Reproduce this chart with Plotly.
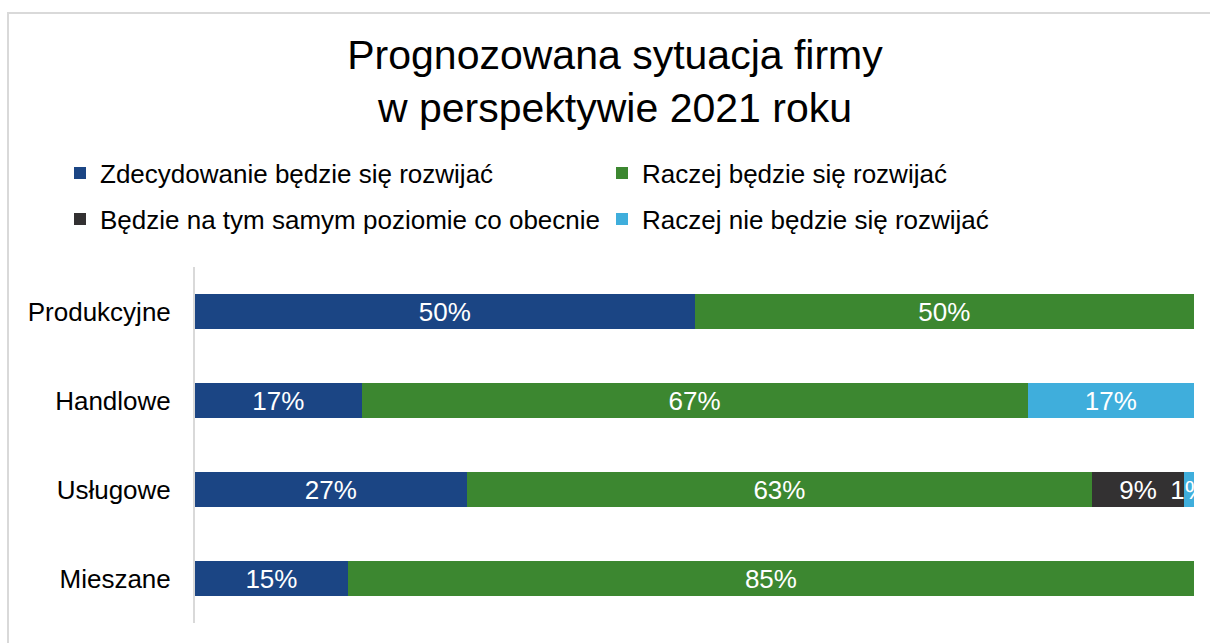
import plotly.graph_objects as go

categories = ["Produkcyjne", "Handlowe", "Usługowe", "Mieszane"]
series_names = [
    "Zdecydowanie będzie się rozwijać",
    "Raczej będzie się rozwijać",
    "Będzie na tym samym poziomie co obecnie",
    "Raczej nie będzie się rozwijać",
]
zdecydowanie = [50.0, 16.67, 27.2, 15.3]
raczej = [50.0, 66.67, 62.6, 84.7]
ten_sam = [0.0, 0.0, 9.2, 0.0]
raczej_nie = [0.0, 16.67, 1.0, 0.0]
colors = ["#1B4584", "#3C8730", "#333132", "#3FAEDC"]

W, H = 1210, 643
FONT = "Liberation Sans, Arial, sans-serif"

# legend placement (pixels): one legend per entry, two columns x two rows
legend_ids = ["legend", "legend2", "legend3", "legend4"]
legend_px = [(60, 173), (602, 173), (60, 219), (602, 219)]

fig = go.Figure()
for name, vals, col, lg in zip(series_names, [zdecydowanie, raczej, ten_sam, raczej_nie], colors, legend_ids):
    texts = [f"{round(v):d}%" if v > 0 else "" for v in vals]
    fig.add_trace(go.Bar(
        y=categories, x=vals, name=name, orientation="h",
        marker=dict(color=col, line=dict(width=0)),
        text=texts, textposition="inside", insidetextanchor="middle", textangle=0,
        textfont=dict(color="white", size=26, family=FONT),
        legend=lg, cliponaxis=True, showlegend=True,
    ))

legend_common = dict(
    orientation="h", xref="container", yref="container",
    xanchor="left", yanchor="middle",
    font=dict(size=26, family=FONT, color="#000000"),
    itemclick=False, itemdoubleclick=False, bgcolor="rgba(0,0,0,0)",
    traceorder="normal", visible=True,
)
legends = {}
for lg, (px, py) in zip(legend_ids, legend_px):
    legends[lg] = dict(legend_common, x=px / W, y=1 - py / H)

fig.update_layout(
    width=W, height=H,
    showlegend=True,
    barmode="stack", bargap=0.607,
    plot_bgcolor="white", paper_bgcolor="white",
    margin=dict(l=195, r=16, t=267, b=20),
    font=dict(family=FONT, color="#000000", size=26),
    uniformtext=dict(minsize=26, mode="show"),
    title=dict(
        text="Prognozowana sytuacja firmy<br>w perspektywie 2021 roku",
        x=615 / W, xanchor="center", xref="container",
        y=1 - 69 / H, yanchor="middle", yref="container",
        font=dict(size=41, family=FONT, color="#000000"),
    ),
    xaxis=dict(range=[0, 100], visible=False, fixedrange=True),
    yaxis=dict(
        categoryorder="array", categoryarray=categories, autorange="reversed",
        showline=True, linecolor="#D9D9D9", linewidth=2, showgrid=False,
        ticks="", ticklabelstandoff=17, fixedrange=True,
        tickfont=dict(size=26, family=FONT, color="#000000"),
    ),
    shapes=[dict(
        type="rect", xref="paper", yref="paper",
        x0=(8 - 195) / 999, x1=(1240 - 195) / 999,
        y0=-(680 - 623) / 356, y1=1 + (267 - 13) / 356,
        line=dict(color="#D9D9D9", width=2), fillcolor="rgba(0,0,0,0)", layer="below",
    )],
    **legends,
)

fig.write_html(
    "out.html",
    config={"displayModeBar": False},
    post_script="document.body.style.margin='0';",
)
